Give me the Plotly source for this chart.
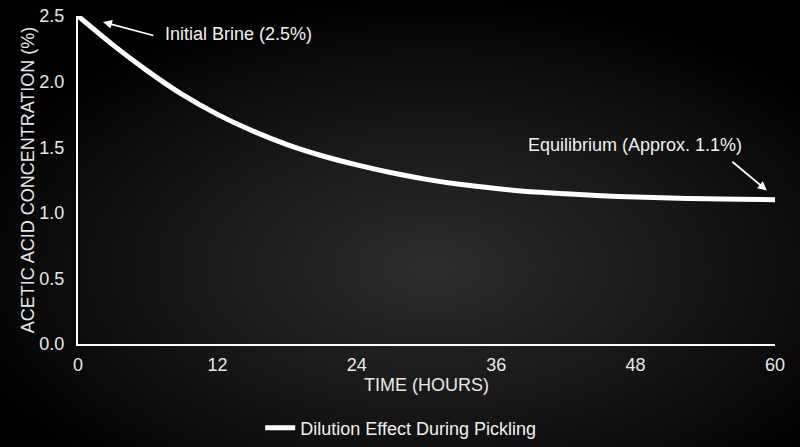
import base64

import plotly.graph_objects as go

# Values
hours = [0, 3, 6, 9, 12, 15, 18, 21, 24, 27, 30, 33, 36, 39, 42, 45, 48, 51, 54, 57, 60]
concentration = [2.50, 2.28, 2.08, 1.90, 1.75, 1.625, 1.52, 1.435, 1.365, 1.305, 1.255,
                 1.215, 1.185, 1.16, 1.145, 1.13, 1.12, 1.113, 1.107, 1.103, 1.10]
x_ticks = [0, 12, 24, 36, 48, 60]
y_ticks = [0.0, 0.5, 1.0, 1.5, 2.0, 2.5]

series_name = "Dilution Effect During Pickling"
start_label = "Initial Brine (2.5%)"
end_label = "Equilibrium (Approx. 1.1%)"

FONT = "Liberation Sans, Arial, sans-serif"
W, H = 800, 447
L, R, T, B = 78, 25, 16, 103
pw, ph = W - L - R, H - T - B

# radial glow background as an svg layer
svg = (
    f'<svg xmlns="http://www.w3.org/2000/svg" width="{W}" height="{H}">'
    '<defs><radialGradient id="g" cx="0.54" cy="0.6" r="0.62">'
    '<stop offset="0" stop-color="#2c2c2c"/>'
    '<stop offset="0.55" stop-color="#151515"/>'
    '<stop offset="1" stop-color="#000000"/>'
    '</radialGradient></defs>'
    f'<rect width="{W}" height="{H}" fill="url(#g)"/></svg>'
)
bg_src = "data:image/svg+xml;base64," + base64.b64encode(svg.encode()).decode()

fig = go.Figure(
    go.Scatter(
        x=hours,
        y=concentration,
        mode="lines",
        name=series_name,
        line=dict(color="white", width=5, shape="spline", smoothing=0.8),
        showlegend=True,
    )
)

fig.update_layout(
    width=W,
    height=H,
    margin=dict(l=L, r=R, t=T, b=B, autoexpand=False),
    paper_bgcolor="black",
    plot_bgcolor="rgba(0,0,0,0)",
    font=dict(family=FONT, size=18, color="#e8e8e8"),
    images=[dict(
        source=bg_src, xref="paper", yref="paper",
        x=-L / pw, y=1 + T / ph, sizex=W / pw, sizey=H / ph,
        xanchor="left", yanchor="top", sizing="stretch", layer="below",
    )],
    legend=dict(
        orientation="h", x=0.463, xanchor="center", y=-0.256, yanchor="middle",
        font=dict(size=18, color="#f0f0f0"), bgcolor="rgba(0,0,0,0)",
    ),
)

fig.update_xaxes(
    range=[0, 60], tickvals=x_ticks, showgrid=False, zeroline=False,
    showline=True, linecolor="white", linewidth=2,
    ticks="", ticklabelstandoff=3, automargin=False,
    title=dict(text="TIME (HOURS)", standoff=4, font=dict(size=18)),
)
fig.update_yaxes(
    range=[0, 2.5], tickvals=y_ticks, tickformat=".1f", showgrid=False,
    zeroline=False, showline=True, linecolor="white", linewidth=2,
    ticks="", ticklabelstandoff=8, automargin=False,
    title=dict(text="ACETIC ACID CONCENTRATION (%)", standoff=0, font=dict(size=18)),
)

arrow = dict(showarrow=True, arrowhead=2, arrowsize=1, arrowwidth=1.8,
             arrowcolor="white", axref="pixel", ayref="pixel", text="")
# start annotation: arrow + separate text
fig.add_annotation(x=2.15, y=2.455, ax=52, ay=14, **arrow)
fig.add_annotation(x=7.3, y=2.36, text=start_label, showarrow=False,
                   xanchor="left", font=dict(size=18, color="#f0f0f0"))
# end annotation
fig.add_annotation(x=59.3, y=1.17, ax=-36, ay=-30, **arrow)
fig.add_annotation(x=38.6, y=1.52, text=end_label, showarrow=False,
                   xanchor="left", font=dict(size=18, color="#f0f0f0"))

fig.write_html(
    "out.html",
    config={"displayModeBar": False},
    post_script="document.body.style.margin='0';",
)
